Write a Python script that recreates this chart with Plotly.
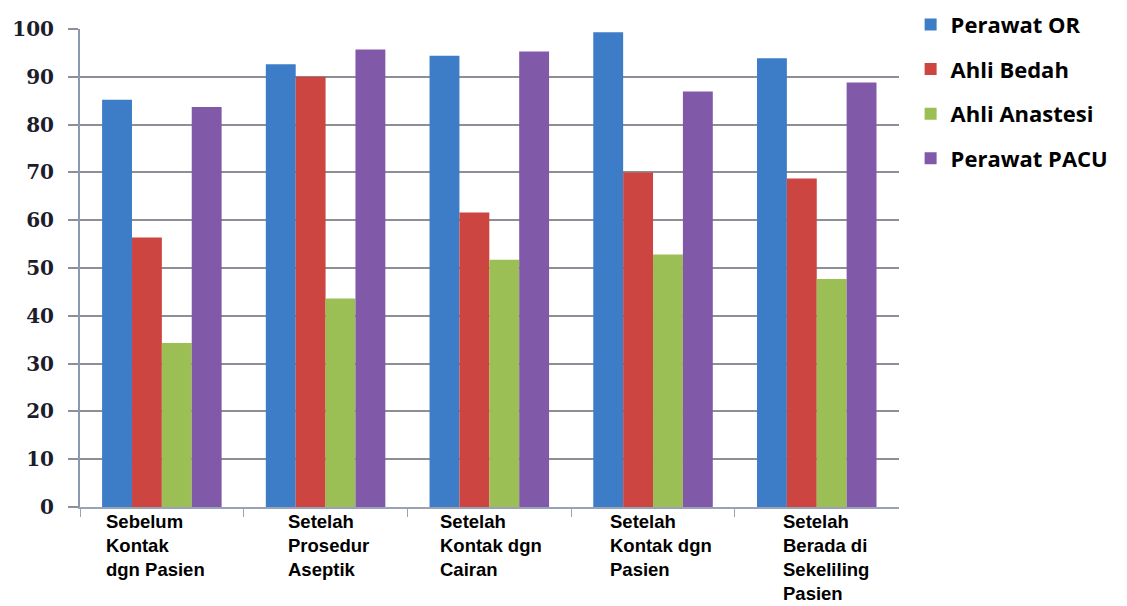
import plotly.graph_objects as go

categories = ["Sebelum Kontak dgn Pasien", "Setelah Prosedur Aseptik",
              "Setelah Kontak dgn Cairan", "Setelah Kontak dgn Pasien",
              "Setelah Berada di Sekeliling Pasien"]
category_labels = ["Sebelum<br>Kontak<br>dgn Pasien",
                   "Setelah<br>Prosedur<br>Aseptik",
                   "Setelah<br>Kontak dgn<br>Cairan",
                   "Setelah<br>Kontak dgn<br>Pasien",
                   "Setelah<br>Berada di<br>Sekeliling<br>Pasien"]
series_names = ["Perawat OR", "Ahli Bedah", "Ahli Anastesi", "Perawat PACU"]
perawat_or = [85.2, 92.6, 94.4, 99.3, 93.9]
ahli_bedah = [56.4, 90.0, 61.6, 70.0, 68.7]
ahli_anastesi = [34.3, 43.6, 51.7, 52.8, 47.7]
perawat_pacu = [83.7, 95.7, 95.3, 86.9, 88.8]
y_ticks = [0, 10, 20, 30, 40, 50, 60, 70, 80, 90, 100]

series_values = [perawat_or, ahli_bedah, ahli_anastesi, perawat_pacu]
colors = ["#3D7CC6", "#CC4540", "#9BBE55", "#8059A8"]
label_xshift = [-58, -40, -51, -45, -36]

fig = go.Figure()
for name, vals, col in zip(series_names, series_values, colors):
    fig.add_trace(go.Bar(x=categories, y=vals, name=name, marker_color=col,
                         marker_line_width=0, legendgroup=name))

for cat, lab, dx in zip(categories, category_labels, label_xshift):
    fig.add_annotation(x=cat, xref="x", y=0, yref="paper", text=lab,
                       showarrow=False, xanchor="left", yanchor="top",
                       align="left", xshift=dx, yshift=-2,
                       font=dict(family="Liberation Sans", size=18.5, color="#000000"))

fig.update_layout(
    width=1127, height=606,
    margin=dict(l=78, r=222, t=29, b=99),
    paper_bgcolor="white", plot_bgcolor="white",
    barmode="group", bargap=0.27, bargroupgap=0,
    font=dict(family="Liberation Sans"),
    legend=dict(x=0.808, xanchor="left", y=0.994, yanchor="top",
                yref="container", xref="container",
                font=dict(family="Open Sans", size=22, color="#000000", weight="bold"),
                tracegroupgap=13, bgcolor="rgba(0,0,0,0)"),
    showlegend=True,
)
fig.update_annotations(font_weight="bold")
fig.update_xaxes(showticklabels=False, showline=True, linecolor="#9AA3B5", linewidth=2,
                 ticks="outside", tickson="boundaries", ticklen=8, tickcolor="#9AA3B5",
                 showgrid=False)
fig.update_yaxes(range=[0, 100], tickvals=y_ticks, showline=True, linecolor="#8C97B3",
                 linewidth=2, showgrid=True, gridcolor="#8E8E96", gridwidth=2,
                 ticks="outside", ticklen=10, tickcolor="#8E8E96", tickwidth=2,
                 ticklabelstandoff=10, zeroline=False,
                 tickfont=dict(family="DejaVu Serif", size=20, color="#1C1C2A", weight="bold"))

fig.write_html("out.html")
